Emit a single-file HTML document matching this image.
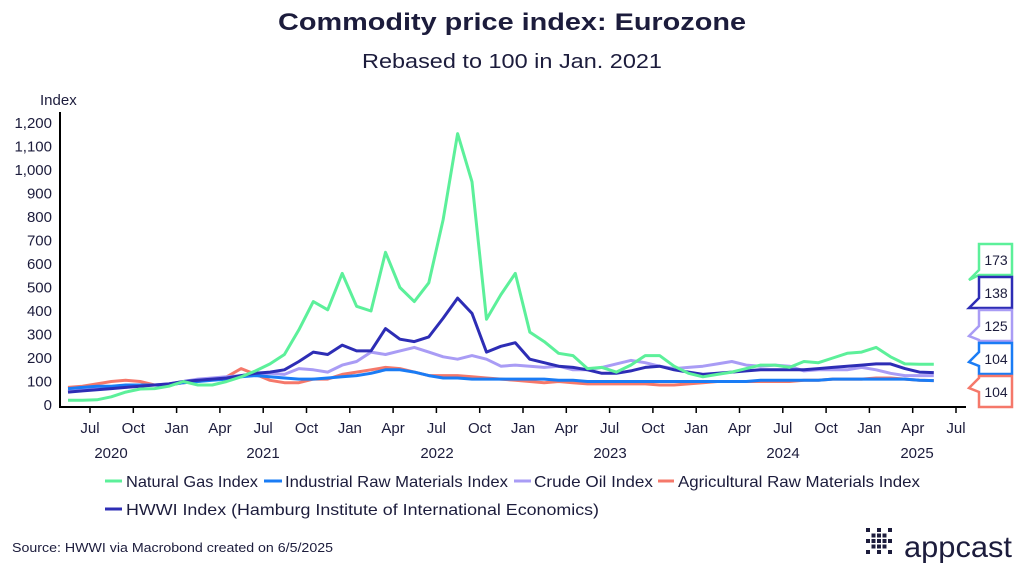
<!DOCTYPE html>
<html><head><meta charset="utf-8"><style>
body{margin:0;background:#fff;width:1024px;height:567px;overflow:hidden;font-family:"Liberation Sans",sans-serif;color:#1c1c3c}
</style></head><body>
<svg id="s" width="1024" height="567" xmlns="http://www.w3.org/2000/svg" font-family="Liberation Sans, sans-serif" fill="#1c1c3c">
<text x="278" y="30" font-size="24" font-weight="bold" textLength="468" lengthAdjust="spacingAndGlyphs">Commodity price index: Eurozone</text>
<text x="362" y="68" font-size="20" textLength="300" lengthAdjust="spacingAndGlyphs">Rebased to 100 in Jan. 2021</text>
<text x="40" y="105" font-size="15">Index</text>
<g id="yt" font-size="15" text-anchor="end"></g>
<g id="xt" font-size="15" text-anchor="middle"></g>
<line x1="60" y1="112" x2="60" y2="407" stroke="#000" stroke-width="2"/>
<line x1="59" y1="407" x2="966" y2="407" stroke="#000" stroke-width="2"/>
<g id="ln" fill="none" stroke-width="3" stroke-linejoin="round"></g>
<g id="lb" font-size="14"></g>
<g font-size="16">
<line x1="105" y1="481" x2="122" y2="481" stroke="#5cf09a" stroke-width="3"/><text x="126" y="487" textLength="132" lengthAdjust="spacingAndGlyphs">Natural Gas Index</text>
<line x1="264" y1="481" x2="282" y2="481" stroke="#1a7cf5" stroke-width="3"/><text x="285" y="487" textLength="223" lengthAdjust="spacingAndGlyphs">Industrial Raw Materials Index</text>
<line x1="514" y1="481" x2="531" y2="481" stroke="#a99cf5" stroke-width="3"/><text x="534" y="487" textLength="119" lengthAdjust="spacingAndGlyphs">Crude Oil Index</text>
<line x1="658" y1="481" x2="674" y2="481" stroke="#f5786a" stroke-width="3"/><text x="678" y="487" textLength="242" lengthAdjust="spacingAndGlyphs">Agricultural Raw Materials Index</text>
<line x1="105" y1="509" x2="122" y2="509" stroke="#2d2db5" stroke-width="3"/><text x="126" y="515" textLength="473" lengthAdjust="spacingAndGlyphs">HWWI Index (Hamburg Institute of International Economics)</text>
</g>
<text x="12" y="552" font-size="13" textLength="321" lengthAdjust="spacingAndGlyphs">Source: HWWI via Macrobond created on 6/5/2025</text>
<g id="logo" fill="#1c1c3c"></g>
<text x="904" y="557" font-size="30" fill="#1c1c3c" textLength="108" lengthAdjust="spacingAndGlyphs">appcast</text>
</svg>
<script>
const NS="http://www.w3.org/2000/svg";
function el(p,t,a,txt){const e=document.createElementNS(NS,t);for(const k in a)e.setAttribute(k,a[k]);if(txt!==undefined)e.textContent=txt;document.getElementById(p).appendChild(e);return e;}
const Y=v=>405-v*0.235;
for(let v=0;v<=1200;v+=100){el("yt","text",{x:52,y:Y(v)+5},v.toLocaleString("en-US"));}
const X=i=>68+14.43*i;
const ms=["Jul","Oct","Jan","Apr"];
for(let k=0;k<=20;k++){const x=90+43.3*k;el("xt","line",{x1:x,y1:407,x2:x,y2:413,stroke:"#000","stroke-width":1.5});el("xt","text",{x:x,y:433},ms[k%4]);}
[["2020",111],["2021",263],["2022",437],["2023",610],["2024",783],["2025",917]].forEach(a=>el("xt","text",{x:a[1],y:458},a[0]));
const D={
"#f5786a":[75,80,90,100,105,100,85,85,95,100,110,120,155,130,105,95,95,110,110,130,140,150,160,155,140,125,125,125,120,115,110,105,100,95,100,95,90,90,90,90,90,85,85,90,95,100,100,100,100,100,100,105,105,110,110,110,115,115,110,105,104],
"#a99cf5":[60,65,70,75,80,85,85,90,100,110,115,120,125,130,135,130,155,150,140,170,185,225,215,230,245,225,205,195,210,195,165,170,165,160,165,150,150,160,175,190,180,165,155,160,165,175,185,170,165,170,165,145,150,150,150,160,150,135,125,125,125],
"#1a7cf5":[70,75,80,80,85,85,85,85,95,100,105,110,120,125,120,115,110,110,115,120,125,135,150,150,140,125,115,115,110,110,110,110,110,110,105,105,100,100,100,100,100,100,100,100,100,100,100,100,105,105,105,105,105,110,110,110,110,110,110,105,104],
"#2d2db5":[55,60,65,70,75,80,85,90,100,105,110,115,125,135,140,150,185,225,215,255,230,230,325,280,270,290,370,455,390,225,250,265,195,180,165,160,150,135,135,145,160,165,150,140,130,135,140,145,150,150,150,150,155,160,165,170,175,175,155,140,138],
"#5cf09a":[20,20,22,35,55,68,70,80,100,85,85,100,120,145,175,215,320,440,405,560,420,400,650,500,440,520,790,1155,950,365,470,560,310,270,220,210,155,160,140,170,210,210,165,135,120,130,140,155,170,170,160,185,180,200,220,225,245,205,175,173,173]};
for(const c in D){el("ln","polyline",{stroke:c,points:D[c].map((v,i)=>X(i).toFixed(1)+","+Y(v).toFixed(1)).join(" ")});}
[["#5cf09a",244,"173",280],["#2d2db5",277,"138",308],["#a99cf5",310,"125",336],["#1a7cf5",343,"104",362],["#f5786a",376,"104",388]].forEach(a=>{
 const y=a[1],h=31;
 el("lb","path",{d:`M979 ${y} H1012 V${y+h} H979 V${Math.min(y+h,a[3]+4)} L969 ${a[3]} L979 ${a[3]-10} Z`,fill:"#fff",stroke:a[0],"stroke-width":2.5});
 el("lb","text",{x:996,y:y+21,"text-anchor":"middle"},a[2]);});
for(let r=0;r<5;r++)for(let c=0;c<5;c++){if((r+c)%2==0||r==2||c==2)el("logo","rect",{x:866+c*5.5,y:528+r*5.5,width:4,height:4});}
</script>
</body></html>
